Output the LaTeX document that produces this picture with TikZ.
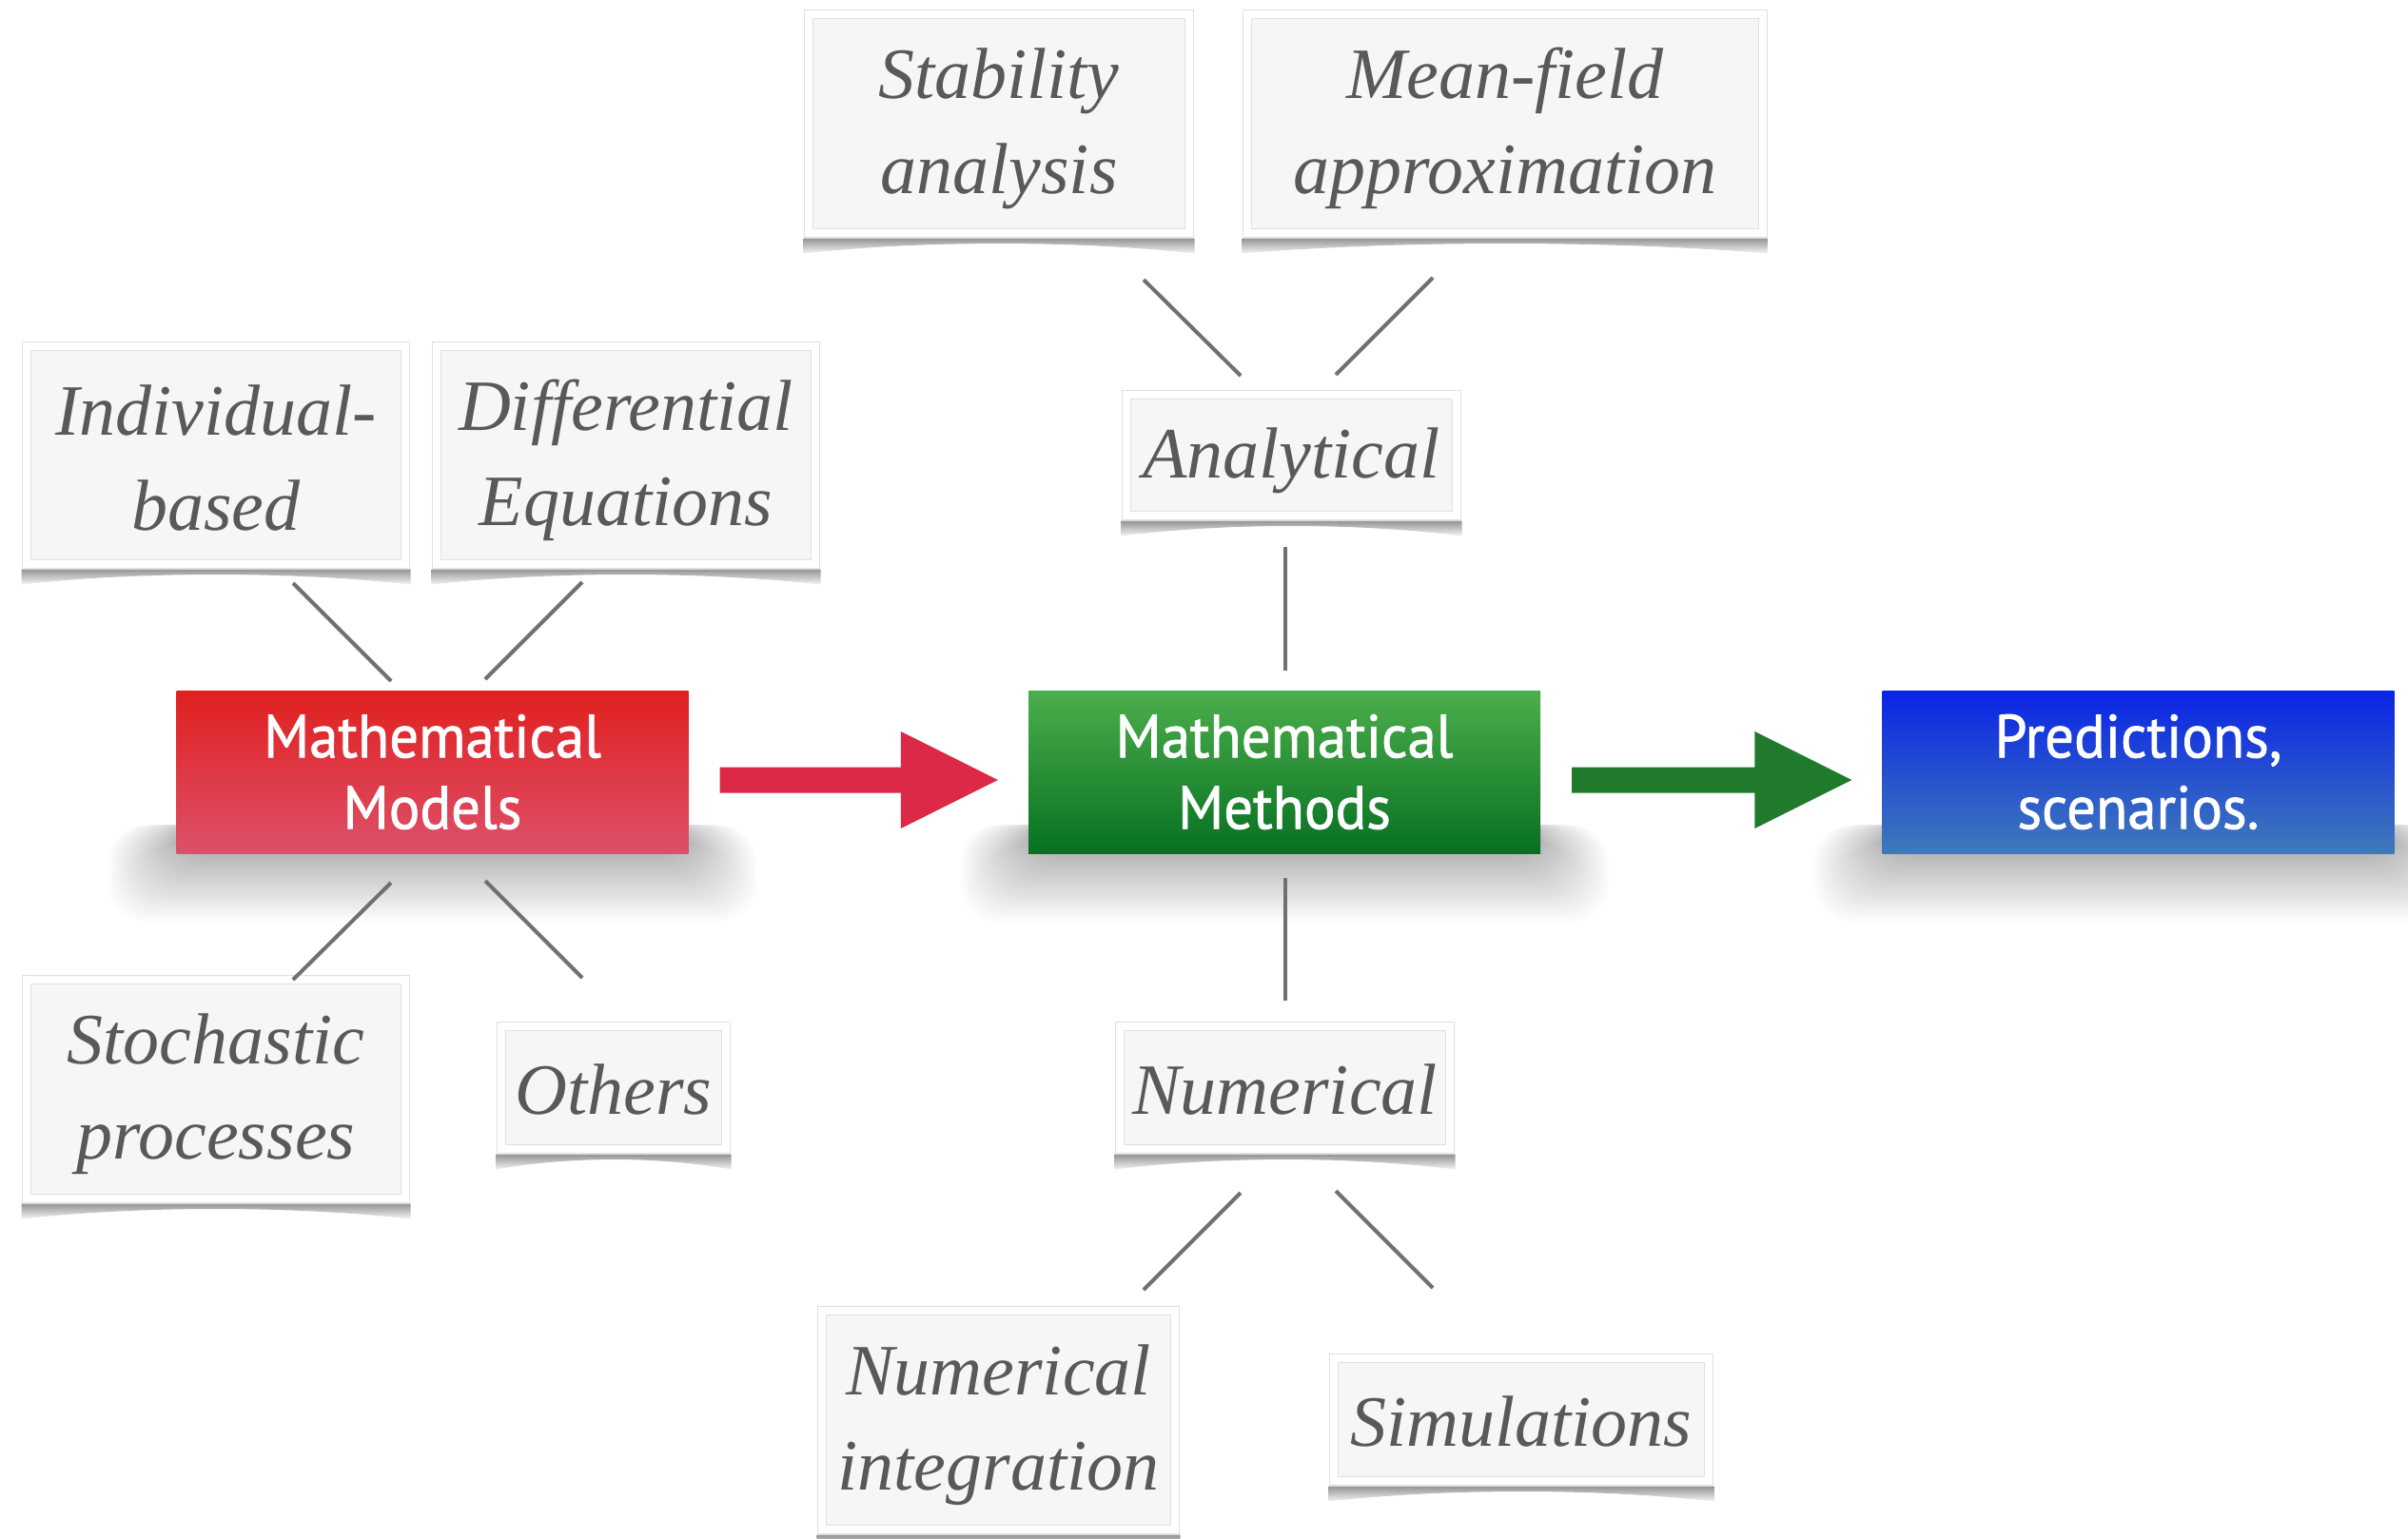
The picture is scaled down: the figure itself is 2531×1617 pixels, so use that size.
\documentclass[tikz,border=0pt]{standalone}
\usepackage{fontspec}
\usetikzlibrary{calc}
\newfontfamily\lsfont{Liberation Serif}
\newfontfamily\dinfont{PT Sans}[FakeStretch=0.95,FakeBold=1.2]
\definecolor{boxfill}{HTML}{F6F6F6}
\definecolor{boxline}{HTML}{E0E0E0}
\definecolor{txtgray}{HTML}{595959}
\definecolor{lnk}{HTML}{707070}
\definecolor{redT}{HTML}{E0201F}
\definecolor{redB}{HTML}{DD5069}
\definecolor{grnT}{HTML}{4CAE4C}
\definecolor{grnB}{HTML}{077021}
\definecolor{bluT}{HTML}{0A24E6}
\definecolor{bluB}{HTML}{4079BA}
\definecolor{redA}{HTML}{DB2947}
\definecolor{grnA}{HTML}{1F7A2C}
\pgfdeclarelayer{bg}
\pgfsetlayers{bg,main}
\begin{document}
\begin{tikzpicture}[x=1pt,y=-1pt,
  graybox/.style={draw=boxline, line width=1pt, double=white, double distance=8pt,
    fill=boxfill, inner sep=0pt, align=center, text=txtgray,
    font=\lsfont\itshape\fontsize{76}{100}\selectfont,
    execute at begin node={\rule{0pt}{#1pt}}},
  graybox/.default=164,
  colbox/.style={inner sep=0pt, align=center, text=white,
    minimum width=538pt, minimum height=171pt,
    font=\dinfont\fontsize{64}{75}\selectfont},
  link/.style={draw=lnk, line width=4pt},
  gshadow/.style={top color=black!42, bottom color=black!4},
]
\begin{pgfonlayer}{bg}
\fill[white] (0,0) rectangle (2531,1617);
\end{pgfonlayer}
\useasboundingbox (0,0) rectangle (2531,1617);

% gray boxes
\node[graybox=158, minimum width=398pt, minimum height=229pt] (ind)  at (227,478.5) {Individual-\\based};
\node[graybox, minimum width=398pt, minimum height=229pt] (dif)  at (658,478.5) {Differential\\Equations};
\node[graybox, minimum width=400pt, minimum height=230pt] (stab) at (1050,130) {Stability\\analysis};
\node[graybox, minimum width=542pt, minimum height=230pt] (mean) at (1582,130) {Mean-field\\approximation};
\node[graybox=64, minimum width=347pt, minimum height=127pt] (ana)  at (1357.5,478.5) {Analytical};
\node[graybox, minimum width=398pt, minimum height=230pt] (sto)  at (227,1145) {Stochastic\\processes};
\node[graybox=56, minimum width=236pt, minimum height=129pt] (oth)  at (645,1143.5) {Others};
\node[graybox=56, minimum width=347pt, minimum height=129pt] (num)  at (1350.5,1143.5) {Numerical};
\node[graybox, minimum width=371pt, minimum height=230pt] (nint) at (1049.5,1493) {Numerical\\integration};
\node[graybox=56, minimum width=394pt, minimum height=129pt] (sim)  at (1599,1492.5) {Simulations};

% curled-paper shadows under the gray boxes
\foreach \n in {ind,dif,stab,mean,ana,sto,oth,num,nint,sim}{
  \shade[gshadow] ($(\n.south west)+(-5,5)$) -- ($(\n.south east)+(5,5)$) -- ++(0,16)
    .. controls ($(\n.south east)!0.3!(\n.south west)+(0,7)$) and ($(\n.south east)!0.7!(\n.south west)+(0,7)$)
    .. ($(\n.south west)+(-5,21)$) -- cycle;
}

% coloured boxes
\node[colbox, top color=redT, bottom color=redB] (mm)   at (454.5,811.5) {Mathematical\\Models};
\node[colbox, top color=grnT, bottom color=grnB] (meth) at (1350,811.5) {Mathematical\\Methods};
\node[colbox, top color=bluT, bottom color=bluB] (pred) at (2247.5,811.5) {Predictions,\\scenarios.};

% soft shadows under the coloured boxes
\begin{pgfonlayer}{bg}
\foreach \n in {mm,meth,pred}{
  \foreach \k in {1,...,24}{
    \fill[black, opacity=0.011, rounded corners=40pt]
      ($(\n.south west)+(-\k*3,-30)$) rectangle ($(\n.south east)+(\k*3,\k*3)$);
  }
}
\end{pgfonlayer}

% block arrows
\fill[redA] ($(mm.east)+(33,-5)$) -- ($(meth.west)+(-134,-5)$) -- ($(meth.west)+(-134,-42.5)$)
  -- ($(meth.west)+(-32,8.5)$) -- ($(meth.west)+(-134,59.5)$) -- ($(meth.west)+(-134,22)$)
  -- ($(mm.east)+(33,22)$) -- cycle;
\fill[grnA] ($(meth.east)+(33,-5)$) -- ($(pred.west)+(-134,-5)$) -- ($(pred.west)+(-134,-42.5)$)
  -- ($(pred.west)+(-32,8.5)$) -- ($(pred.west)+(-134,59.5)$) -- ($(pred.west)+(-134,22)$)
  -- ($(meth.east)+(33,22)$) -- cycle;

% connector end points
\coordinate (c1a) at (308,613);   \coordinate (c1b) at (411,716);
\coordinate (c2a) at (612,612);   \coordinate (c2b) at (510,714);
\coordinate (c3a) at (411,928);   \coordinate (c3b) at (308,1030);
\coordinate (c4a) at (510,926);   \coordinate (c4b) at (612,1028);
\coordinate (c5a) at (1202,294);  \coordinate (c5b) at (1304,395);
\coordinate (c6a) at (1506,292);  \coordinate (c6b) at (1404,394);
\coordinate (c7a) at (1351,575);  \coordinate (c7b) at (1351,705);
\coordinate (c8a) at (1351,923);  \coordinate (c8b) at (1351,1052);
\coordinate (c9a) at (1304,1254); \coordinate (c9b) at (1202,1356);
\coordinate (c10a) at (1404,1252);\coordinate (c10b) at (1506,1354);
\foreach \i in {1,...,10}{ \draw[link] (c\i a) -- (c\i b); }
\end{tikzpicture}
\end{document}
